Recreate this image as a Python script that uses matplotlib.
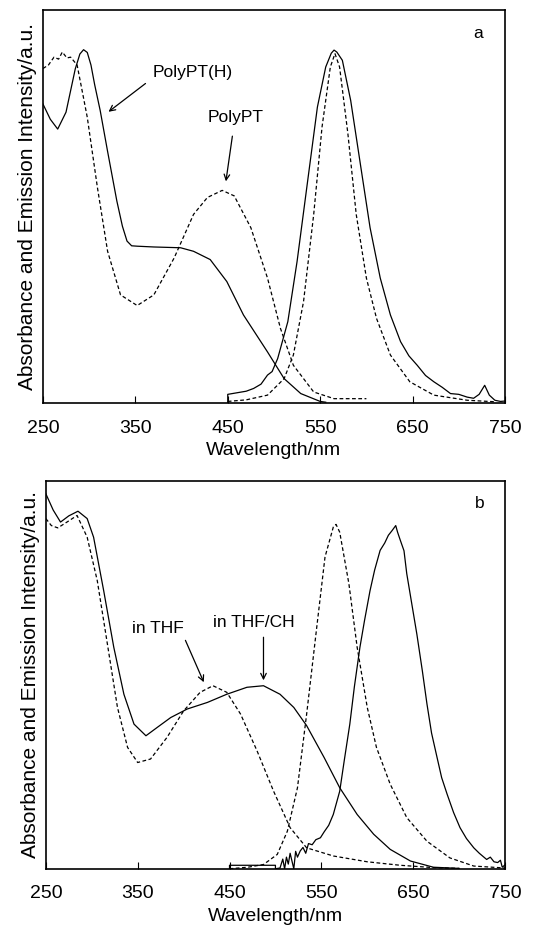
import numpy as np
from matplotlib import pyplot as plt

plt.rcParams['font.family'] = ['Liberation Sans', 'DejaVu Sans']

# ---- panel a : PolyPT(H) (solid) and PolyPT (dashed)
a_abs_h_x = [250, 258, 266, 275, 285, 290, 294, 298, 302, 306, 312, 320, 330, 336, 341, 346, 352, 370, 399, 413, 431, 449, 467, 493, 511, 529, 550, 556]
a_abs_h_y = [0.761, 0.722, 0.697, 0.740, 0.850, 0.888, 0.899, 0.892, 0.860, 0.810, 0.744, 0.640, 0.514, 0.450, 0.412, 0.400, 0.399, 0.397, 0.395, 0.386, 0.365, 0.309, 0.224, 0.130, 0.062, 0.024, 0.004, 0.002]

a_abs_x = [250, 256, 262, 267, 271, 276, 280, 287, 292, 298, 309, 320, 334, 352, 370, 392, 413, 428, 444, 457, 475, 493, 507, 521, 543, 565, 600]
a_abs_y = [0.851, 0.860, 0.880, 0.875, 0.893, 0.878, 0.880, 0.860, 0.800, 0.727, 0.548, 0.386, 0.275, 0.248, 0.275, 0.369, 0.480, 0.523, 0.541, 0.527, 0.446, 0.318, 0.190, 0.096, 0.028, 0.011, 0.011]

a_em_h_x = [450, 450, 460, 470, 478, 486, 493, 498, 504, 515, 525, 536, 547, 556, 562, 565, 568, 574, 583, 594, 604, 615, 626, 637, 646, 655, 664, 673, 682, 691, 700, 709, 716, 722, 728, 733, 739, 745, 750]
a_em_h_y = [0.0, 0.022, 0.026, 0.030, 0.037, 0.048, 0.071, 0.080, 0.113, 0.207, 0.360, 0.557, 0.753, 0.855, 0.890, 0.898, 0.893, 0.872, 0.770, 0.600, 0.446, 0.318, 0.224, 0.156, 0.120, 0.096, 0.070, 0.054, 0.040, 0.024, 0.022, 0.015, 0.012, 0.022, 0.045, 0.020, 0.007, 0.004, 0.005]

a_em_x = [450, 470, 493, 511, 521, 532, 543, 552, 561, 566, 571, 580, 589, 600, 611, 626, 647, 673, 709, 740]
a_em_y = [0.004, 0.008, 0.020, 0.062, 0.122, 0.258, 0.480, 0.702, 0.855, 0.889, 0.855, 0.685, 0.480, 0.318, 0.215, 0.122, 0.054, 0.020, 0.007, 0.003]

# ---- panel b : in THF/CH (solid) and in THF (dashed)
b_abs_ch_x = [250, 258, 266, 275, 285, 295, 302, 313, 324, 335, 346, 359, 371, 386, 404, 426, 447, 469, 487, 505, 520, 534, 553, 570, 589, 607, 625, 647, 672, 700]
b_abs_ch_y = [0.967, 0.925, 0.894, 0.910, 0.922, 0.903, 0.855, 0.717, 0.571, 0.450, 0.373, 0.343, 0.364, 0.390, 0.412, 0.429, 0.450, 0.468, 0.472, 0.450, 0.416, 0.369, 0.287, 0.209, 0.140, 0.089, 0.050, 0.020, 0.004, 0.001]

b_abs_x = [250, 256, 263, 273, 284, 295, 306, 317, 328, 339, 350, 364, 382, 400, 418, 432, 447, 462, 480, 498, 516, 534, 563, 600, 636, 672, 700]
b_abs_y = [0.903, 0.885, 0.879, 0.894, 0.911, 0.855, 0.743, 0.580, 0.416, 0.313, 0.274, 0.283, 0.339, 0.407, 0.455, 0.472, 0.455, 0.399, 0.304, 0.200, 0.106, 0.054, 0.033, 0.018, 0.009, 0.003, 0.001]

b_em_x = [450, 470, 487, 502, 513, 524, 534, 545, 554, 563, 566, 570, 580, 589, 600, 610, 625, 643, 665, 690, 716, 750]
b_em_y = [0.000, 0.004, 0.011, 0.037, 0.097, 0.209, 0.399, 0.623, 0.804, 0.881, 0.888, 0.868, 0.735, 0.571, 0.416, 0.313, 0.218, 0.132, 0.071, 0.028, 0.007, 0.002]

b_em_ch_x = [450, 450, 500, 500, 505, 508, 510, 512, 514, 516, 518, 520, 522, 524, 527, 530, 533, 536, 540, 544, 549, 553, 558, 563, 570, 575, 581, 586, 592, 597, 603, 608, 614, 619, 623, 627, 631, 633, 636, 640, 643, 648, 654, 660, 665, 670, 676, 681, 687, 694, 701, 708, 716, 722, 727, 730, 734, 738, 742, 745, 747, 750]
b_em_ch_y = [0.000, 0.009, 0.009, 0.000, 0.002, 0.025, 0.000, 0.030, 0.012, 0.040, 0.020, 0.000, 0.045, 0.030, 0.046, 0.055, 0.040, 0.065, 0.062, 0.075, 0.080, 0.095, 0.112, 0.140, 0.200, 0.280, 0.373, 0.470, 0.571, 0.640, 0.717, 0.770, 0.821, 0.840, 0.860, 0.872, 0.885, 0.868, 0.847, 0.820, 0.761, 0.690, 0.605, 0.510, 0.425, 0.350, 0.287, 0.235, 0.192, 0.145, 0.106, 0.078, 0.054, 0.040, 0.030, 0.024, 0.030, 0.018, 0.016, 0.022, 0.004, 0.010]

xticks = [250, 350, 450, 550, 650, 750]
ylab = 'Absorbance and Emission Intensity/a.u.'

fig = plt.figure(figsize=(5.33, 9.26), dpi=100)
ax1 = fig.add_axes([0.0805, 0.5648, 0.867, 0.4244])
ax2 = fig.add_axes([0.0860, 0.0618, 0.8615, 0.4188])

dash = (0, (3, 2))
lw = 0.9
fs = 14

ax1.plot(a_abs_h_x, a_abs_h_y, color='k', lw=lw)
ax1.plot(a_abs_x, a_abs_y, color='k', lw=lw, linestyle=dash)
ax1.plot(a_em_h_x, a_em_h_y, color='k', lw=lw)
ax1.plot(a_em_x, a_em_y, color='k', lw=lw, linestyle=dash)

ax2.plot(b_abs_ch_x, b_abs_ch_y, color='k', lw=lw)
ax2.plot(b_abs_x, b_abs_y, color='k', lw=lw, linestyle=dash)
ax2.plot(b_em_ch_x, b_em_ch_y, color='k', lw=lw)
ax2.plot(b_em_x, b_em_y, color='k', lw=lw, linestyle=dash)

arr = dict(arrowstyle='->', color='k', lw=0.9, shrinkA=0, shrinkB=0)
ax1.text(412, 0.841, 'PolyPT(H)', ha='center', va='center', fontsize=12.5)
ax1.annotate('', xy=(321, 0.741), xytext=(361, 0.813), arrowprops=arr)
ax1.text(458, 0.726, 'PolyPT', ha='center', va='center', fontsize=12.5)
ax1.annotate('', xy=(448, 0.564), xytext=(455, 0.679), arrowprops=arr)
ax1.text(721, 0.941, 'a', ha='center', va='center', fontsize=12.5)

ax2.text(372, 0.620, 'in THF', ha='center', va='center', fontsize=12.5)
ax2.annotate('', xy=(422, 0.481), xytext=(402, 0.589), arrowprops=arr)
ax2.text(476, 0.636, 'in THF/CH', ha='center', va='center', fontsize=12.5)
ax2.annotate('', xy=(487, 0.486), xytext=(487, 0.597), arrowprops=arr)
ax2.text(722, 0.943, 'b', ha='center', va='center', fontsize=12.5)

for ax in (ax1, ax2):
    ax.set_xlim(250, 750)
    ax.set_ylim(0, 1)
    ax.set_xticks(xticks)
    ax.set_yticks([])
    ax.tick_params(axis='x', direction='in', length=5, width=0.8, labelsize=fs, pad=12)
    for s in ax.spines.values():
        s.set_linewidth(1.2)
    ax.set_xlabel('Wavelength/nm', fontsize=fs, labelpad=4)
    ax.set_ylabel(ylab, fontsize=15)
    ax.yaxis.set_label_coords(-0.012, 0.5)

fig.savefig('out.png', dpi=100)
